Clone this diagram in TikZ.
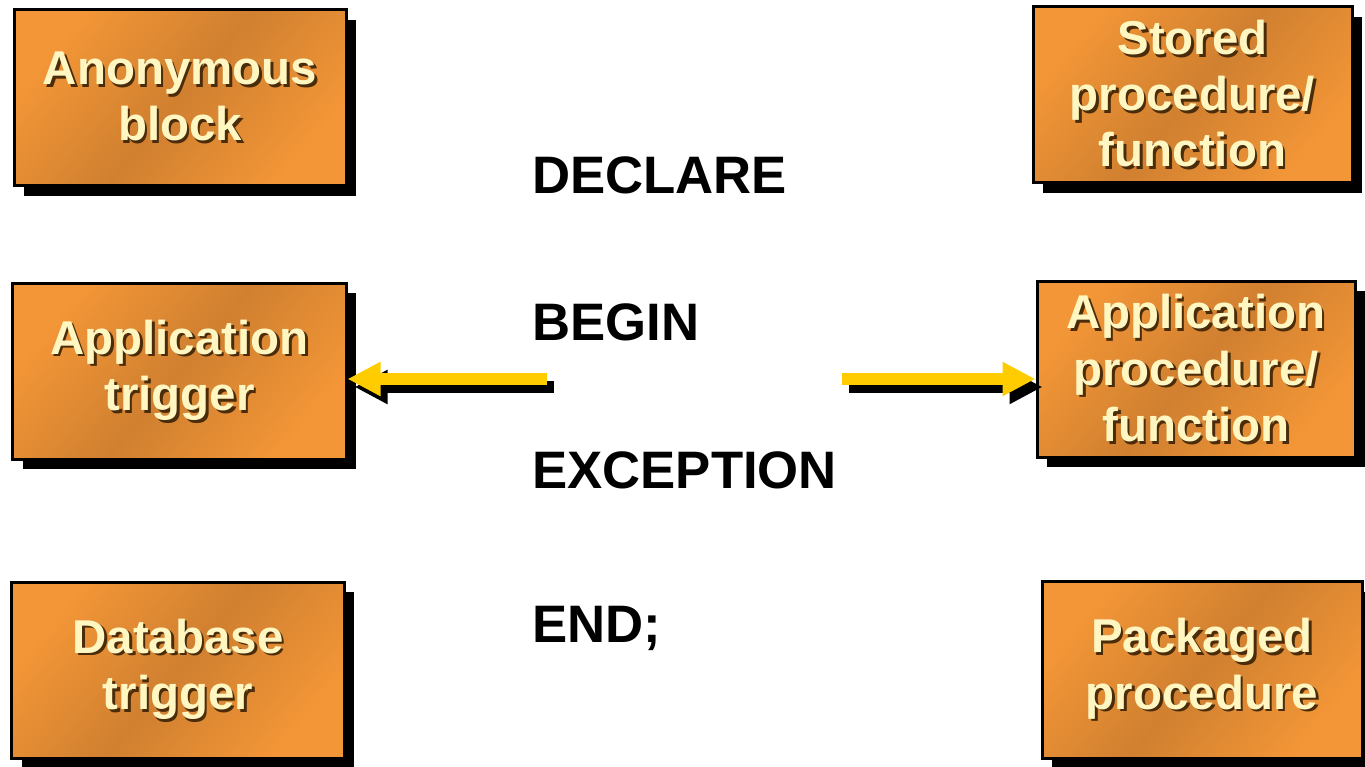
\documentclass[tikz,border=0pt]{standalone}
\usepackage{fontspec}
\setmainfont{Liberation Sans}
\usepackage{tikz}
\usetikzlibrary{arrows.meta,positioning,shadows}
\definecolor{orLight}{HTML}{F39637}
\definecolor{orDark}{HTML}{D08030}
\definecolor{cream}{HTML}{FFF6C2}
\definecolor{txtshade}{HTML}{4A2C0A}
\definecolor{arryellow}{HTML}{FFCC00}
\pgfdeclarehorizontalshading{orangeglow}{100bp}{color(0bp)=(orLight); color(25bp)=(orLight);
  color(50bp)=(orDark); color(75bp)=(orLight); color(100bp)=(orLight)}
% embossed label text: dark copy slightly down-right, cream on top
\newcommand{\emb}[1]{\rlap{\kern1.5pt\raisebox{-1.5pt}{\color{txtshade}#1}}#1}

\begin{document}
\begin{tikzpicture}[
  box/.style={draw=black, line width=0.06cm, shading=orangeglow, shading angle=-40, text=cream,
    align=center, font=\fontsize{27}{32}\selectfont\bfseries, minimum height=3.52cm,
    drop shadow={shadow xshift=0.2cm, shadow yshift=-0.2cm, fill=black, opacity=1}},
  kw/.style={anchor=base west, inner sep=0pt, font=\fontsize{30}{36}\selectfont\bfseries},
  arr/.style={-{Triangle[length=6.6mm, width=6.4mm]}, line width=2.4mm, draw=arryellow},
  arrshade/.style={arr, draw=black, transform canvas={shift={(0.14,-0.16)}}}]
\useasboundingbox (0,0) rectangle (27.3,-15.34);

% calling environments, left column
\node[box, minimum width=6.64cm] (anon) at (3.60,-1.96) {\emb{Anonymous}\\\emb{block}};
\node[box, minimum width=6.66cm] (apptrig) at (3.59,-7.43) {\emb{Application}\\\emb{trigger}};
\node[box, minimum width=6.64cm] (dbtrig) at (3.56,-13.41) {\emb{Database}\\\emb{trigger}};

% right column
\node[box, minimum width=6.38cm] (stored) at (23.85,-1.90) {\emb{Stored}\\\emb{procedure/}\\\emb{function}};
\node[box, minimum width=6.36cm] (appproc) at (23.92,-7.39) {\emb{Application}\\\emb{procedure/}\\\emb{function}};
\node[box, minimum width=6.40cm] (pkg) at (24.04,-13.40) {\emb{Packaged}\\\emb{procedure}};

% block structure
\node[kw] (declare) at (10.64,-3.88) {DECLARE};
\node[kw] (begin) at (10.64,-6.82) {BEGIN};
\node[kw] (except) at (10.64,-9.78) {EXCEPTION};
\node[kw] (end) at (10.64,-12.86) {END;};

% arrows out to the two application boxes
\coordinate (lsrc) at (10.94,-7.58);
\coordinate (rsrc) at (16.84,-7.58);
\draw[arrshade] (lsrc) -- (lsrc -| apptrig.east);
\draw[arrshade] (rsrc) -- (rsrc -| appproc.west);
\draw[arr] (lsrc) -- (lsrc -| apptrig.east);
\draw[arr] (rsrc) -- (rsrc -| appproc.west);
\end{tikzpicture}
\end{document}
